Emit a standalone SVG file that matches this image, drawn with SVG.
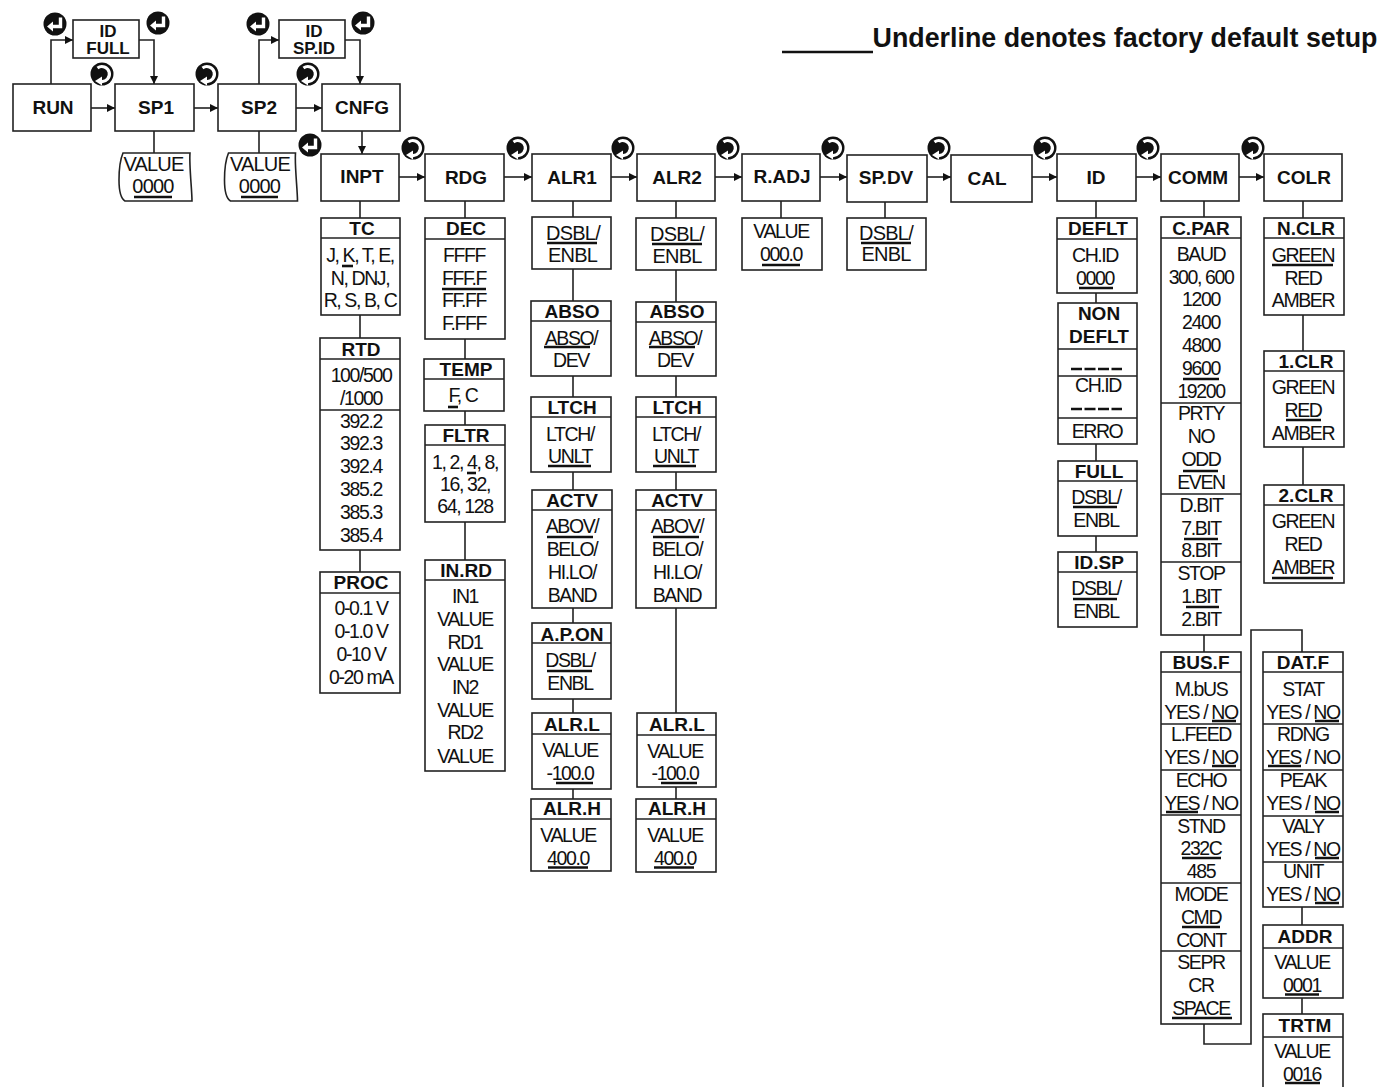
<svg xmlns="http://www.w3.org/2000/svg" width="1382" height="1087" viewBox="0 0 1382 1087">
<style>
text{font-family:"Liberation Sans",Arial,sans-serif;fill:#111;text-anchor:middle}
.t{font-size:19.5px;letter-spacing:-1.4px}
.w{font-size:20px;letter-spacing:-.8px}
.h{font-size:19px;font-weight:700}
.s{font-size:17px;font-weight:700}
rect,.b,.d{fill:#fff;stroke:#222;stroke-width:1.6}
.d{fill:none;stroke-width:1.3}
.u{fill:none;stroke:#111;stroke-width:2.6}
#connectors path{fill:none;stroke:#222;stroke-width:1.6}
.dash{stroke:#111;stroke-width:2.4;stroke-dasharray:11 2.5;fill:none}
</style>
<defs>
<marker id="a" markerUnits="userSpaceOnUse" markerWidth="9" markerHeight="9" refX="8" refY="4" orient="auto"><path d="M0 0L8 4L0 8Z" fill="#111"/></marker>
<g id="enter"><circle r="11.5" fill="#111"/><path d="M5.500-6.500V2.500H-3" fill="none" stroke="#fff" stroke-width="3.400"/><path d="M-8 2.500L-2-2.500V7.500Z" fill="#fff"/></g>
<g id="rot"><circle r="11.5" fill="#111"/><path d="M-4.500-6A7.500 7.500 0 1 1 -1 7.500" fill="none" stroke="#fff" stroke-width="3.200"/><path d="M-7 7L0 2.500V11.500Z" fill="#fff"/></g>
</defs>
<rect width="1382" height="1087" style="fill:#fff;stroke:none"/>

<g id="connectors">
<path d="M51 84V40H73" marker-end="url(#a)"/>
<path d="M139 40H154V84" marker-end="url(#a)"/>
<path d="M91 108H115" marker-end="url(#a)"/>
<path d="M194 108H218" marker-end="url(#a)"/>
<path d="M296 108H322" marker-end="url(#a)"/>
<path d="M259 84V40H279" marker-end="url(#a)"/>
<path d="M345 40H360V84" marker-end="url(#a)"/>
<path d="M362 131V154" marker-end="url(#a)"/>
<path d="M399 177H425" marker-end="url(#a)"/>
<path d="M504 177H532" marker-end="url(#a)"/>
<path d="M611 177H637" marker-end="url(#a)"/>
<path d="M715 177H742" marker-end="url(#a)"/>
<path d="M820 177H847" marker-end="url(#a)"/>
<path d="M927 177H951" marker-end="url(#a)"/>
<path d="M1032 177H1057" marker-end="url(#a)"/>
<path d="M1136 177H1161" marker-end="url(#a)"/>
<path d="M1239 177H1264" marker-end="url(#a)"/>
<path d="M154 131V153M259 131V153"/>
<path d="M360 201V218M360 315V338M360 550V572"/>
<path d="M465 201V218M465 339V359M465 411V425M465 522V560"/>
<path d="M573 201V217M573 269V301M573 376V397M573 472V490M573 608V623M573 699V713M573 789V799"/>
<path d="M676 201V218M676 270V302M676 376V397M676 472V490M676 608V713M676 787V799"/>
<path d="M781 201V218M885 202V218"/>
<path d="M1096 201V218M1096 293V303M1096 444V461M1096 536V552"/>
<path d="M1204 201V217M1204 635V652"/>
<path d="M1204 1024V1044H1251V630H1302V652"/>
<path d="M1303 201V218M1303 315V351M1303 447V485"/>
<path d="M1302 907V925M1302 998V1014"/>
</g>

<g id="icons">
<use href="#enter" x="55" y="24"/><use href="#enter" x="158" y="23"/><use href="#enter" x="258" y="24"/><use href="#enter" x="363" y="23"/><use href="#enter" x="310" y="145"/>
<use href="#rot" x="102" y="74"/><use href="#rot" x="207" y="74"/><use href="#rot" x="308" y="74"/>
<use href="#rot" x="413" y="148"/><use href="#rot" x="518" y="148"/><use href="#rot" x="623" y="148"/><use href="#rot" x="728" y="148"/><use href="#rot" x="833" y="148"/><use href="#rot" x="939" y="148"/><use href="#rot" x="1045" y="148"/><use href="#rot" x="1148" y="148"/><use href="#rot" x="1253" y="148"/>
</g>

<g id="legend">
<path d="M782 52H873" class="u"/>
<text x="1125" y="47" style="font-size:26.800px;font-weight:700">Underline denotes factory default setup</text>
</g>

<g id="n-run"><rect x="13" y="84" width="78" height="47"/><text class="h" x="53" y="114">RUN</text></g>
<g id="n-sp1"><rect x="115" y="84" width="79" height="47"/><text class="h" x="156" y="114">SP1</text></g>
<g id="n-sp2"><rect x="218" y="84" width="78" height="47"/><text class="h" x="259" y="114">SP2</text></g>
<g id="n-cnfg"><rect x="322" y="84" width="78" height="47"/><text class="h" x="362" y="114">CNFG</text></g>
<g id="n-idfull"><rect x="73" y="20" width="66" height="38"/><text class="s" x="108" y="37">ID</text><text class="s" x="108" y="54">FULL</text></g>
<g id="n-idspid"><rect x="279" y="20" width="66" height="38"/><text class="s" x="314" y="37">ID</text><text class="s" x="314" y="54">SP.ID</text></g>
<g id="n-sp1v"><path class="b" d="M123 153H190C189 165 192 190 192 201H125C120 198 119 190 119 180C119 170 120 160 123 153Z"/><text class="w" x="153.500" y="171">VALUE</text><text class="w" x="153" y="193">0000</text><path class="u" d="M134 197H172"/></g>
<g id="n-sp2v"><path class="b" d="M228.500 153H295.500C294.500 165 297.500 190 297.500 201H230.500C225.500 198 224.500 190 224.500 180C224.500 170 225.500 160 228.500 153Z"/><text class="w" x="260" y="171">VALUE</text><text class="w" x="259.500" y="193">0000</text><path class="u" d="M241 197H278"/></g>

<g id="n-inpt"><rect x="321" y="154" width="78" height="47"/><text class="h" x="362" y="183">INPT</text></g>
<g id="n-rdg"><rect x="425" y="154" width="79" height="47"/><text class="h" x="466" y="184">RDG</text></g>
<g id="n-alr1"><rect x="532" y="154" width="79" height="47"/><text class="h" x="572" y="184">ALR1</text></g>
<g id="n-alr2"><rect x="637" y="154" width="78" height="47"/><text class="h" x="677" y="184">ALR2</text></g>
<g id="n-radj"><rect x="742" y="154" width="78" height="47"/><text class="h" x="782" y="183">R.ADJ</text></g>
<g id="n-spdv"><rect x="847" y="155" width="80" height="47"/><text class="h" x="886" y="184">SP.DV</text></g>
<g id="n-cal"><rect x="951" y="155" width="81" height="47"/><text class="h" x="987" y="185">CAL</text></g>
<g id="n-id"><rect x="1057" y="154" width="79" height="47"/><text class="h" x="1096" y="184">ID</text></g>
<g id="n-comm"><rect x="1161" y="154" width="78" height="47"/><text class="h" x="1198" y="184">COMM</text></g>
<g id="n-colr"><rect x="1264" y="154" width="78" height="47"/><text class="h" x="1304" y="184">COLR</text></g>

<g id="n-tc"><rect x="321" y="218" width="79" height="97"/><path class="d" d="M321 238H400"/><text class="h" x="362" y="235">TC</text>
<text class="t" x="360" y="262">J, K, T, E,</text><text class="t" x="360" y="285">N, DNJ,</text><text class="t" x="360" y="307">R, S, B, C</text><path class="u" d="M342 266H353"/></g>
<g id="n-rtd"><rect x="320" y="338" width="80" height="212"/><path class="d" d="M320 359H400M320 410H400"/><text class="h" x="361" y="356">RTD</text>
<text class="t" x="361" y="382">100/500</text><text class="t" x="361" y="405">/1000</text><text class="t" x="361" y="428">392.2</text><text class="t" x="361" y="450">392.3</text><text class="t" x="361" y="473">392.4</text><text class="t" x="361" y="496">385.2</text><text class="t" x="361" y="519">385.3</text><text class="t" x="361" y="542">385.4</text></g>
<g id="n-proc"><rect x="320" y="572" width="80" height="121"/><path class="d" d="M320 593H400"/><text class="h" x="361" y="589">PROC</text>
<text class="t" x="361" y="615">0-0.1 V</text><text class="t" x="361" y="638">0-1.0 V</text><text class="t" x="361" y="661">0-10 V</text><text class="t" x="361" y="684">0-20 mA</text></g>

<g id="n-dec"><rect x="425" y="218" width="80" height="121"/><path class="d" d="M425 239H505"/><text class="h" x="466" y="235">DEC</text>
<text class="t" x="464" y="262">FFFF</text><text class="t" x="464" y="285">FFF.F</text><text class="t" x="464" y="307">FF.FF</text><text class="t" x="464" y="330">F.FFF</text><path class="u" d="M442 289H486"/></g>
<g id="n-temp"><rect x="424" y="359" width="80" height="52"/><path class="d" d="M424 379H504"/><text class="h" x="466" y="376">TEMP</text>
<text class="t" x="463" y="402">F, C</text><path class="u" d="M448 407H458"/></g>
<g id="n-fltr"><rect x="425" y="425" width="80" height="97"/><path class="d" d="M425 445H505"/><text class="h" x="466" y="442">FLTR</text>
<text class="t" x="465" y="469">1, 2, 4, 8,</text><text class="t" x="465" y="491">16, 32,</text><text class="t" x="465" y="513">64, 128</text><path class="u" d="M467 473H476"/></g>
<g id="n-inrd"><rect x="425" y="560" width="80" height="211"/><path class="d" d="M425 580H505"/><text class="h" x="466" y="577">IN.RD</text>
<text class="t" x="465" y="603">IN1</text><text class="t" x="465" y="626">VALUE</text><text class="t" x="465" y="649">RD1</text><text class="t" x="465" y="671">VALUE</text><text class="t" x="465" y="694">IN2</text><text class="t" x="465" y="717">VALUE</text><text class="t" x="465" y="739">RD2</text><text class="t" x="465" y="763">VALUE</text></g>

<g id="n-a1dsbl"><rect x="532" y="217" width="79" height="52"/><text class="w" x="573" y="240">DSBL/</text><text class="w" x="572.500" y="262">ENBL</text><path class="u" d="M547 243H597"/></g>
<g id="n-a1abso"><rect x="531" y="301" width="80" height="75"/><path class="d" d="M531 321H611"/><text class="h" x="572" y="318">ABSO</text><text class="t" x="571" y="345">ABSO/</text><text class="t" x="571" y="367">DEV</text><path class="u" d="M544 347H590"/></g>
<g id="n-a1ltch"><rect x="531" y="397" width="80" height="75"/><path class="d" d="M531 417H611"/><text class="h" x="572" y="414">LTCH</text><text class="t" x="570" y="441">LTCH/</text><text class="t" x="570" y="463">UNLT</text><path class="u" d="M548 466H591"/></g>
<g id="n-a1actv"><rect x="532" y="490" width="80" height="118"/><path class="d" d="M532 510H612"/><text class="h" x="572" y="507">ACTV</text><text class="t" x="572" y="533">ABOV/</text><text class="t" x="572" y="556">BELO/</text><text class="t" x="572" y="579">HI.LO/</text><text class="t" x="572" y="602">BAND</text><path class="u" d="M547 537H593"/></g>
<g id="n-a1apon"><rect x="532" y="623" width="79" height="76"/><path class="d" d="M532 643H611"/><text class="h" x="572" y="641">A.P.ON</text><text class="t" x="570" y="667">DSBL/</text><text class="t" x="570" y="690">ENBL</text><path class="u" d="M547 671H592"/></g>
<g id="n-a1alrl"><rect x="532" y="713" width="79" height="76"/><path class="d" d="M532 734H611"/><text class="h" x="572" y="731">ALR.L</text><text class="t" x="570" y="757">VALUE</text><text class="t" x="570" y="780">-100.0</text><path class="u" d="M556 783H593"/></g>
<g id="n-a1alrh"><rect x="531" y="799" width="80" height="72"/><path class="d" d="M531 819H611"/><text class="h" x="572" y="815">ALR.H</text><text class="t" x="568" y="842">VALUE</text><text class="t" x="568" y="865">400.0</text><path class="u" d="M548 867.500H588"/></g>

<g id="n-a2dsbl"><rect x="636" y="218" width="80" height="52"/><text class="w" x="677" y="241">DSBL/</text><text class="w" x="677" y="263">ENBL</text><path class="u" d="M652 244H702"/></g>
<g id="n-a2abso"><rect x="636" y="302" width="80" height="74"/><path class="d" d="M636 322H716"/><text class="h" x="677" y="318">ABSO</text><text class="t" x="675" y="345">ABSO/</text><text class="t" x="675" y="367">DEV</text><path class="u" d="M649 347H695"/></g>
<g id="n-a2ltch"><rect x="636" y="397" width="80" height="75"/><path class="d" d="M636 417H716"/><text class="h" x="677" y="414">LTCH</text><text class="t" x="676" y="441">LTCH/</text><text class="t" x="676" y="463">UNLT</text><path class="u" d="M653 466H696"/></g>
<g id="n-a2actv"><rect x="636" y="490" width="80" height="118"/><path class="d" d="M636 510H716"/><text class="h" x="677" y="507">ACTV</text><text class="t" x="677" y="533">ABOV/</text><text class="t" x="677" y="556">BELO/</text><text class="t" x="677" y="579">HI.LO/</text><text class="t" x="677" y="602">BAND</text><path class="u" d="M653 537H699"/></g>
<g id="n-a2alrl"><rect x="637" y="713" width="79" height="74"/><path class="d" d="M637 735H716"/><text class="h" x="677" y="731">ALR.L</text><text class="t" x="675" y="758">VALUE</text><text class="t" x="675" y="780">-100.0</text><path class="u" d="M661 783H697"/></g>
<g id="n-a2alrh"><rect x="636" y="799" width="80" height="73"/><path class="d" d="M636 819H716"/><text class="h" x="677" y="815">ALR.H</text><text class="t" x="675" y="842">VALUE</text><text class="t" x="675" y="865">400.0</text><path class="u" d="M654 867.500H694"/></g>

<g id="n-radjv"><rect x="742" y="218" width="80" height="52"/><text class="t" x="781" y="238">VALUE</text><text class="t" x="781" y="261">000.0</text><path class="u" d="M762 265H800"/></g>
<g id="n-spdvv"><rect x="847" y="218" width="79" height="52"/><text class="w" x="886" y="240">DSBL/</text><text class="w" x="886" y="261">ENBL</text><path class="u" d="M861 243H911"/></g>

<g id="n-deflt"><rect x="1057" y="218" width="80" height="75"/><path class="d" d="M1057 239H1137"/><text class="h" x="1098" y="235">DEFLT</text><text class="t" x="1095" y="262">CH.ID</text><text class="t" x="1095" y="285">0000</text><path class="u" d="M1079 288H1113"/></g>
<g id="n-nondeflt"><rect x="1058" y="303" width="79" height="141"/><path class="d" d="M1058 349H1137M1058 376H1137M1058 418H1137"/><text class="h" x="1099" y="320">NON</text><text class="h" x="1099" y="343">DEFLT</text><path class="dash" d="M1071 369H1122M1071 409H1122"/><text class="t" x="1098" y="392">CH.ID</text><text class="t" x="1097" y="438">ERRO</text></g>
<g id="n-full"><rect x="1058" y="461" width="79" height="75"/><path class="d" d="M1058 481H1137"/><text class="h" x="1099" y="478">FULL</text><text class="t" x="1096" y="504">DSBL/</text><text class="t" x="1096" y="527">ENBL</text><path class="u" d="M1073 507H1117"/></g>
<g id="n-idsp"><rect x="1058" y="552" width="79" height="75"/><path class="d" d="M1058 572H1137"/><text class="h" x="1099" y="569">ID.SP</text><text class="t" x="1096" y="595">DSBL/</text><text class="t" x="1096" y="618">ENBL</text><path class="u" d="M1073 599H1117"/></g>

<g id="n-cpar"><rect x="1161" y="217" width="80" height="418"/><path class="d" d="M1161 238H1241M1161 403H1241M1161 494H1241M1161 562H1241"/><text class="h" x="1201" y="235">C.PAR</text>
<text class="t" x="1201" y="261">BAUD</text><text class="t" x="1201" y="284">300, 600</text><text class="t" x="1201" y="306">1200</text><text class="t" x="1201" y="329">2400</text><text class="t" x="1201" y="352">4800</text><text class="t" x="1201" y="375">9600</text><text class="t" x="1201" y="398">19200</text>
<text class="t" x="1201" y="420">PRTY</text><text class="t" x="1201" y="443">NO</text><text class="t" x="1201" y="466">ODD</text><text class="t" x="1201" y="489">EVEN</text>
<text class="t" x="1201" y="512">D.BIT</text><text class="t" x="1201" y="535">7.BIT</text><text class="t" x="1201" y="557">8.BIT</text>
<text class="t" x="1201" y="580">STOP</text><text class="t" x="1201" y="603">1.BIT</text><text class="t" x="1201" y="626">2.BIT</text><path class="u" d="M1183 379H1219M1183 471H1218M1184 539H1218M1186 607H1219"/></g>

<g id="n-busf"><rect x="1161" y="652" width="80" height="372"/><path class="d" d="M1161 672H1241M1161 724H1241M1161 770H1241M1161 815H1241M1161 883H1241M1161 951H1241"/><text class="h" x="1201" y="669">BUS.F</text>
<text class="t" x="1201" y="696">M.bUS</text><text class="t" x="1201" y="719">YES / NO</text><text class="t" x="1201" y="741">L.FEED</text><text class="t" x="1201" y="764">YES / NO</text><text class="t" x="1201" y="787">ECHO</text><text class="t" x="1201" y="810">YES / NO</text><text class="t" x="1201" y="833">STND</text><text class="t" x="1201" y="855">232C</text><text class="t" x="1201" y="878">485</text><text class="t" x="1201" y="901">MODE</text><text class="t" x="1201" y="924">CMD</text><text class="t" x="1201" y="947">CONT</text><text class="t" x="1201" y="969">SEPR</text><text class="t" x="1201" y="992">CR</text><text class="t" x="1201" y="1015">SPACE</text><path class="u" d="M1212 721H1236M1212 766H1236M1166 812H1198M1182 858H1221M1182 927H1220M1172 1018H1232"/></g>

<g id="n-datf"><rect x="1263" y="652" width="80" height="255"/><path class="d" d="M1263 672H1343M1263 724H1343M1263 770H1343M1263 816H1343M1263 862H1343"/><text class="h" x="1303" y="669">DAT.F</text>
<text class="t" x="1303" y="696">STAT</text><text class="t" x="1303" y="719">YES / NO</text><text class="t" x="1303" y="741">RDNG</text><text class="t" x="1303" y="764">YES / NO</text><text class="t" x="1303" y="787">PEAK</text><text class="t" x="1303" y="810">YES / NO</text><text class="t" x="1303" y="833">VALY</text><text class="t" x="1303" y="856">YES / NO</text><text class="t" x="1303" y="878">UNIT</text><text class="t" x="1303" y="901">YES / NO</text><path class="u" d="M1315 721H1339M1268 766H1301M1315 812H1339M1315 858H1339M1315 903H1339"/></g>
<g id="n-addr"><rect x="1263" y="925" width="80" height="73"/><path class="d" d="M1263 948H1343"/><text class="h" x="1305" y="943">ADDR</text><text class="t" x="1302" y="969">VALUE</text><text class="t" x="1302" y="992">0001</text><path class="u" d="M1285 994.500H1319"/></g>
<g id="n-trtm"><rect x="1263" y="1014" width="80" height="80"/><path class="d" d="M1263 1037H1343"/><text class="h" x="1305" y="1032">TRTM</text><text class="t" x="1302" y="1058">VALUE</text><text class="t" x="1302" y="1081">0016</text><path class="u" d="M1285 1083H1320"/></g>

<g id="n-nclr"><rect x="1264" y="218" width="80" height="97"/><path class="d" d="M1264 238H1344"/><text class="h" x="1306" y="235">N.CLR</text><text class="t" x="1303" y="262">GREEN</text><text class="t" x="1303" y="285">RED</text><text class="t" x="1303" y="307">AMBER</text><path class="u" d="M1272 265H1333"/></g>
<g id="n-1clr"><rect x="1264" y="351" width="80" height="96"/><path class="d" d="M1264 371H1344"/><text class="h" x="1306" y="368">1.CLR</text><text class="t" x="1303" y="394">GREEN</text><text class="t" x="1303" y="417">RED</text><text class="t" x="1303" y="440">AMBER</text><path class="u" d="M1286 420H1321"/></g>
<g id="n-2clr"><rect x="1264" y="485" width="80" height="98"/><path class="d" d="M1264 505H1344"/><text class="h" x="1306" y="502">2.CLR</text><text class="t" x="1303" y="528">GREEN</text><text class="t" x="1303" y="551">RED</text><text class="t" x="1303" y="574">AMBER</text><path class="u" d="M1272 578H1333"/></g>
</svg>
